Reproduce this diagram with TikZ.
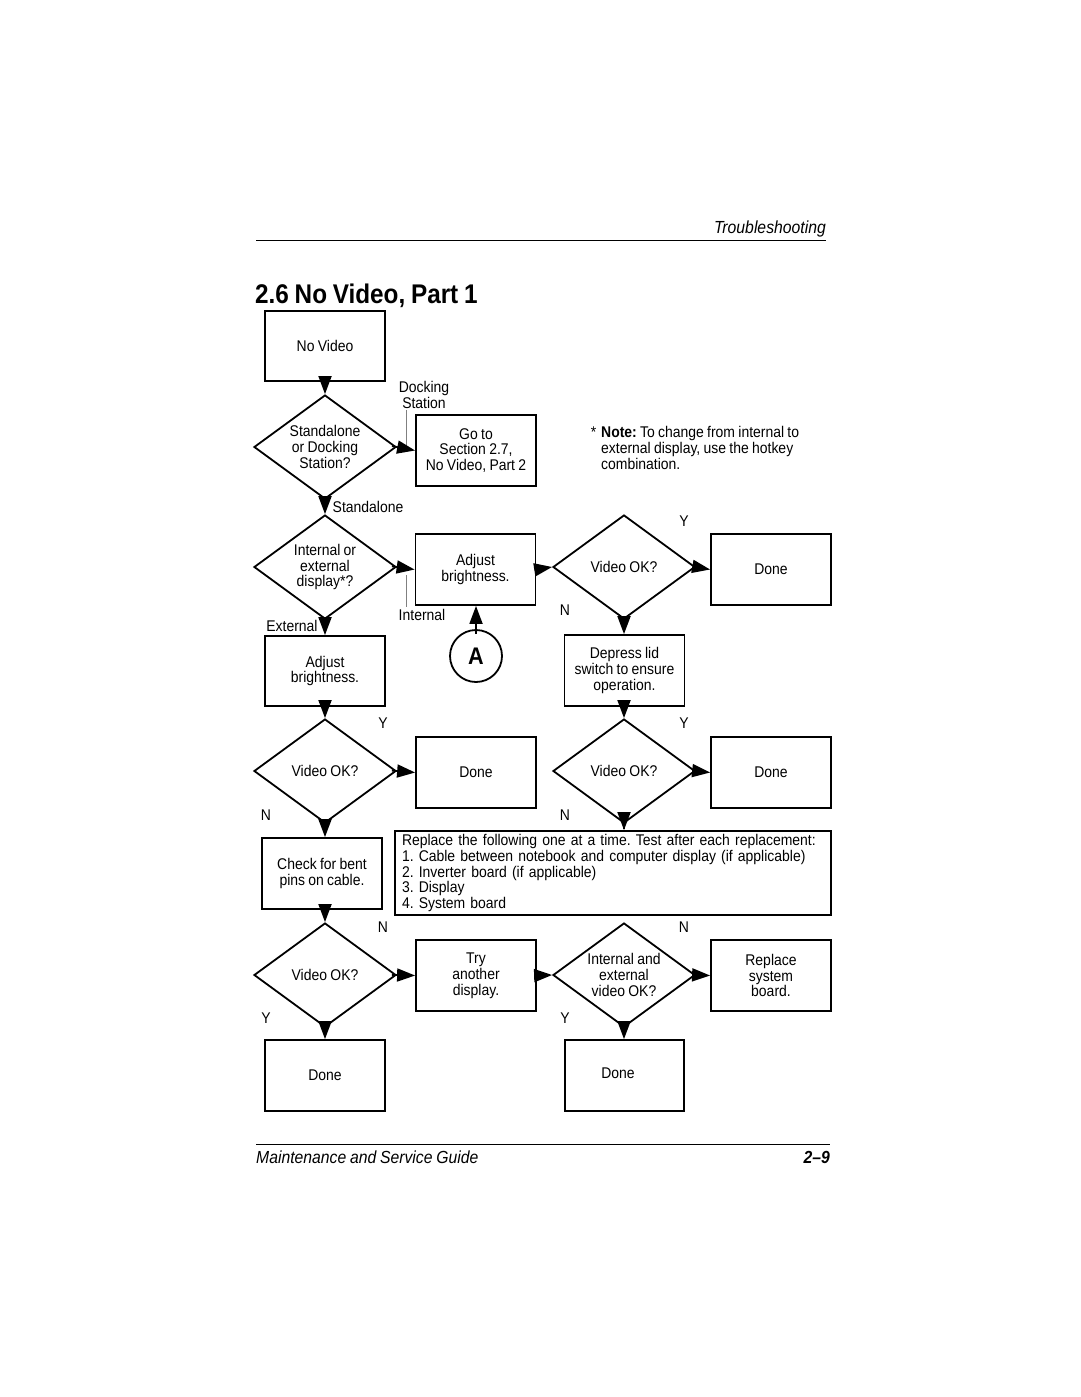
\documentclass[tikz,border=0pt]{standalone}
\usepackage{fontspec}
\setmainfont{Liberation Sans}
\newfontfamily\cond[FakeStretch=0.9,WordSpace=0.85]{Liberation Sans}
\usetikzlibrary{shapes.geometric,arrows.meta}
\frenchspacing
\begin{document}
\begin{tikzpicture}[x=1pt,y=-1pt,
  txt/.style={font=\cond\fontsize{15.5}{15.8}\selectfont, align=center, inner sep=0pt},
  box/.style={txt, draw, line width=1.8pt, minimum width=120pt, minimum height=71pt},
  dia/.style={txt, draw, diamond, aspect=1.4, line width=1.8pt, minimum width=142pt, minimum height=104pt},
  arr/.style={line width=1.8pt, -{Triangle[length=18pt,width=13pt]}, shorten <=-5pt},
  lead/.style={line width=0.7pt, gray},
  lbl/.style={txt}
]
\useasboundingbox[fill=white] (0,0) rectangle (1080,1397);

% header / footer
\draw[line width=1pt] (256,240) -- (826,240);
\node[anchor=base east, inner sep=0pt, font=\cond\fontsize{17.5}{18}\selectfont\itshape] (hdr) at (826,233) {Troubleshooting};
\node[anchor=base west, inner sep=0pt, font=\cond\fontsize{27}{28}\selectfont\bfseries] (title) at (255,303) {2.6 No Video, Part 1};
\draw[line width=1pt] (256,1144) -- (830,1144);
\node[anchor=base west, inner sep=0pt, font=\cond\fontsize{17.5}{18}\selectfont\itshape] (ftr) at (256,1163) {Maintenance and Service Guide};
\node[anchor=base east, inner sep=0pt, font=\cond\fontsize{17.5}{18}\selectfont\bfseries\itshape] (pg) at (830,1163) {2–9};

% nodes
\node[box, minimum height=70pt] (nv) at (325,346) {No Video};
\node[dia] (d1) at (325,447) {Standalone\\or Docking\\Station?};
\node[box] (goto) at (476,450.5) {Go to\\Section 2.7,\\No Video, Part 2};
\node[dia] (d2) at (325,567) {Internal or\\external\\display*?};
\node[box] (adj1) at (475.5,569.5) {Adjust\\brightness.};
\node[box, minimum height=70pt] (adj2) at (325,671) {Adjust\\brightness.};
\node[draw, circle, line width=1.8pt, minimum size=52pt, inner sep=0pt, font=\cond\fontsize{24}{24}\selectfont\bfseries] (ca) at (476,656) {A};
\node[dia] (d3) at (624,567) {Video OK?};
\node[box] (done1) at (771,569.5) {Done};
\node[box] (dep) at (624.5,670.5) {Depress lid\\switch to ensure\\operation.};

\node[dia] (d4) at (325,771) {Video OK?};
\node[box] (done2) at (476,772.5) {Done};
\node[dia] (d5) at (624,771) {Video OK?};
\node[box] (done3) at (771,772.5) {Done};
\node[box] (chk) at (322,873.5) {Check for bent\\pins on cable.};
\node[txt, draw, line width=1.8pt, minimum width=436pt, minimum height=84pt, inner xsep=7pt, text width=422pt, align=left] (big) at (613,873)
 {Replace the following one at a time. Test after each replacement:\\
  1. Cable between notebook and computer display (if applicable)\\
  2. Inverter board (if applicable)\\
  3. Display\\
  4. System board};

\node[dia] (d6) at (325,975) {Video OK?};
\node[box] (try) at (476,975.5) {Try\\another\\display.};
\node[dia] (d7) at (624,975) {Internal and\\external\\video OK?};
\node[box] (repl) at (771,975.5) {Replace\\system\\board.};
\node[box] (done4) at (325,1075.5) {Done};
\node[box, minimum width=119pt] (done5) at (624.5,1075.5) {};
\node[txt] (done5t) at (618,1073) {Done};

% note
\node[txt, anchor=north] (star) at (593.5,427) {*};
\node[txt, align=left, anchor=west] (note) at (601,448)
 {\textbf{Note:} To change from internal to\\external display, use the hotkey\\combination.};

% labels
\node[lbl] (lds) at (424,395) {Docking\\Station};
\coordinate (lds1) at (406,410);
\coordinate (lds2) at (406,447);
\draw[lead] (lds1) -- (lds2);
\node[lbl] (lsa) at (368,507) {Standalone};
\node[lbl] (lint) at (422,615) {Internal};
\coordinate (lint1) at (406,575);
\coordinate (lint2) at (406,607);
\draw[lead] (lint1) -- (lint2);
\node[lbl] (lext) at (292,626) {External};
\node[lbl] (y1) at (684,521) {Y};
\node[lbl] (n1) at (565,610) {N};
\node[lbl] (y2) at (383,723) {Y};
\node[lbl] (y3) at (684,723) {Y};
\node[lbl] (n2) at (266,815) {N};
\node[lbl] (n3) at (565,815) {N};
\node[lbl] (n4) at (383,927) {N};
\node[lbl] (n5) at (684,927) {N};
\node[lbl] (y4) at (266,1018) {Y};
\node[lbl] (y5) at (565,1018) {Y};

% connectors
\draw[arr] (nv.south) -- (d1.north);
\draw[arr] (d1.east) -- (goto.west);
\draw[arr] (d1.south) -- (d2.north);
\draw[arr] (d2.east) -- (adj1.west);
\draw[arr] (d2.south) -- (adj2.north);
\draw[arr] (ca.north) -- (ca.north |- adj1.south);
\draw[arr] (adj1.east) -- (d3.west);
\draw[arr] (d3.east) -- (done1.west);
\draw[arr] (d3.south) -- (d3.south |- dep.north);
\draw[arr] (adj2.south) -- (d4.north);
\draw[arr] (dep.south -| d5.north) -- (d5.north);
\draw[arr] (d4.east) -- (done2.west);
\draw[arr] (d5.east) -- (done3.west);
\draw[arr] (d4.south) -- (d4.south |- chk.north);
\draw[arr] (d5.south) -- (d5.south |- big.north);
\draw[arr] (d6.north |- chk.south) -- (d6.north);
\draw[arr] (d6.east) -- (try.west);
\draw[arr] (try.east) -- (d7.west);
\draw[arr] (d7.east) -- (repl.west);
\draw[arr] (d6.south) -- (done4.north);
\draw[arr] (d7.south) -- (d7.south |- done5.north);
\end{tikzpicture}
\end{document}
